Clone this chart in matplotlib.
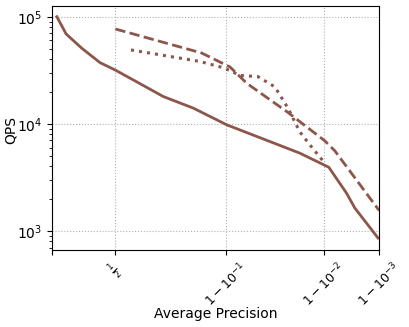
import numpy as np
import matplotlib
matplotlib.use("Agg")
import matplotlib.pyplot as plt
from matplotlib import ticker

# --- Data (recall / QPS) ---
solid_x = [0.047, 0.134, 0.267, 0.402, 0.498, 0.731, 0.827, 0.901, 0.958,
           0.9797, 0.9914, 0.99542, 0.99673, 0.99893]
solid_y = [100000, 69000, 50770, 37250, 31870, 17970, 14010, 9790, 6840,
           5330, 3933, 2259, 1638, 860]

dashed_x = [0.5, 0.848, 0.9065, 0.9318, 0.9724, 0.9902, 0.99298, 0.99899]
dashed_y = [76800, 45880, 33970, 23950, 12800, 6944, 5603, 1556]

dotted_x = [0.587, 0.844, 0.896, 0.9223, 0.9457, 0.9625, 0.9724, 0.9797,
            0.9846, 0.9902]
dotted_y = [48950, 38230, 33260, 28310, 27600, 22120, 14100, 8424, 6374, 4302]

x_ticks = [0, 1 / 2, 1 - 1e-1, 1 - 1e-2, 1 - 1e-3]

ALPHA = 4.0
COLOR = "#8c564b"


def fun(x):
    x = np.clip(x, 0, 1)
    return 1 - (1 - x) ** (1 / ALPHA)


def inv_fun(x):
    x = np.clip(x, 0, 1)
    return 1 - (1 - x) ** ALPHA


fig = plt.figure(figsize=(4.1, 3.27), dpi=100)
ax = fig.add_axes([0.127, 0.2355, 0.798, 0.7462])

ax.plot(solid_x, solid_y, color=COLOR, linestyle="-", linewidth=2)
ax.plot(dashed_x, dashed_y, color=COLOR, linestyle="--", linewidth=2)
ax.plot(dotted_x, dotted_y, color=COLOR, linestyle=":", linewidth=2.2)

ax.set_xscale("function", functions=(fun, inv_fun))
ax.xaxis.set_major_formatter(ticker.LogitFormatter())
ax.set_xticks(x_ticks)
plt.setp(ax.get_xticklabels(), rotation=45, fontsize=9)
ax.set_yscale("log")

ax.set_xlim(0, 0.999)
ax.set_ylim(665, 1.259e5)

ax.set_xlabel("Average Precision")
ax.set_ylabel("QPS")
ax.xaxis.set_label_coords(0.5, -0.232)
ax.yaxis.set_label_coords(-0.104, 0.49)
ax.grid(True, which="major", linestyle=":", color="#b0b0b0", linewidth=0.8)

fig.savefig("out.png", dpi=100)
